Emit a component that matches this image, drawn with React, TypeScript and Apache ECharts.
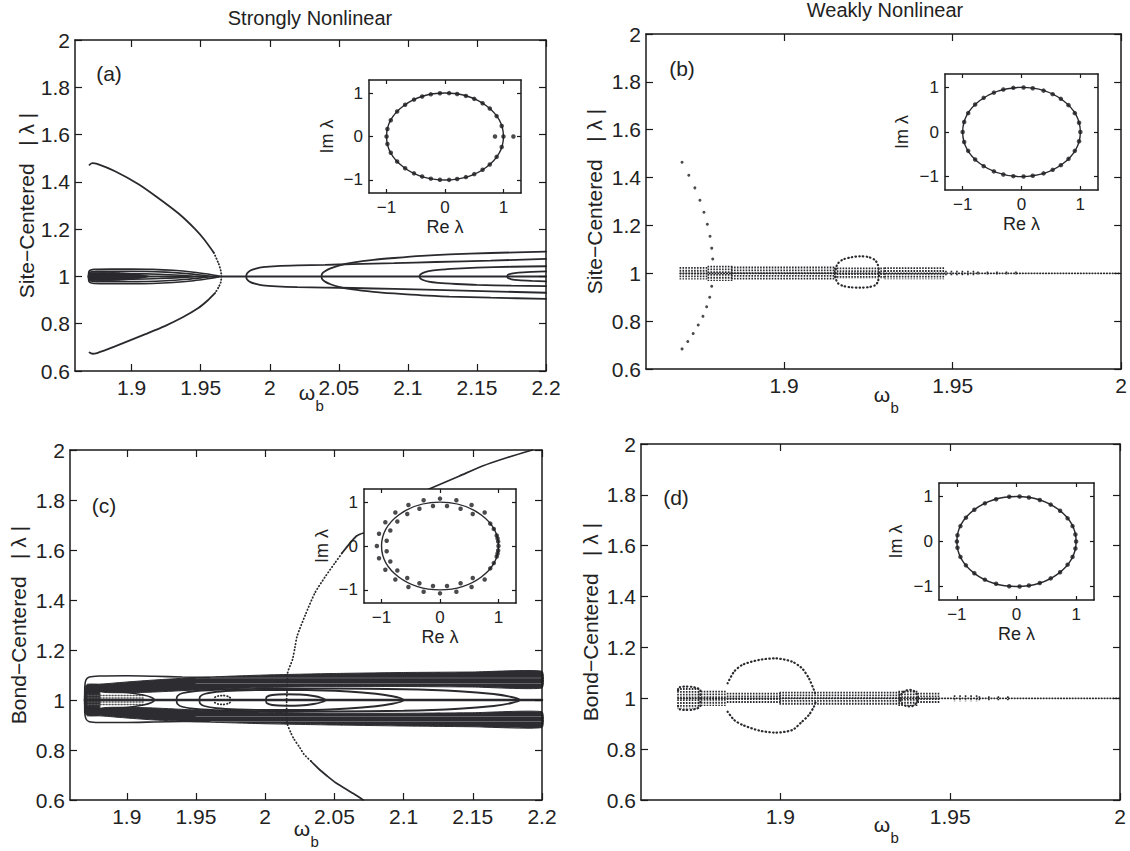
import React, { useEffect, useRef } from "react";
import * as echarts from "echarts";

const INK = "#2a2a2e";
const AXC = "#1a1a1a";
const FONT = "'Liberation Sans', Arial, Helvetica, sans-serif";

// ---------------- ticks ----------------
const strongXTicks = [1.9, 1.95, 2, 2.05, 2.1, 2.15, 2.2];
const weakXTicks = [1.9, 1.95, 2];
const mainYTicks = [0.6, 0.8, 1, 1.2, 1.4, 1.6, 1.8, 2];
const insetTicks = [-1, 0, 1];

// ---------------- panel (a) ----------------
const aUpX = [1.8695, 1.8715, 1.875, 1.888, 1.905, 1.918, 1.934, 1.946, 1.953, 1.9595];
const aUpY = [1.472, 1.479, 1.476, 1.445, 1.39, 1.337, 1.266, 1.2, 1.153, 1.1];
const aLoX = [1.8695, 1.8715, 1.875, 1.8875, 1.91, 1.924, 1.937, 1.948, 1.955, 1.9605];
const aLoY = [0.678, 0.673, 0.676, 0.703, 0.756, 0.79, 0.827, 0.865, 0.898, 0.93];
const aTipX = [1.9595, 1.963, 1.9645, 1.965, 1.9645, 1.963, 1.9605];
const aTipY = [1.1, 1.054, 1.025, 1.0, 0.975, 0.955, 0.93];

const aCoreX = [1.8688, 1.869, 1.875, 1.89, 1.9, 1.908, 1.913];
const aCoreU = [1.0, 1.016, 1.018, 1.016, 1.012, 1.006, 1.0];
const aCoreL = [1.0, 0.984, 0.982, 0.984, 0.988, 0.994, 1.0];

const a1X = [1.8688, 1.8692, 1.873, 1.885, 1.9, 1.915, 1.93, 1.945, 1.955, 1.961, 1.964];
const a1U = [1.0, 1.022, 1.03, 1.031, 1.031, 1.03, 1.026, 1.018, 1.01, 1.004, 1.0];
const a1L = [1.0, 0.978, 0.97, 0.969, 0.969, 0.97, 0.974, 0.982, 0.99, 0.996, 1.0];
const a2X = [1.8688, 1.8692, 1.875, 1.9, 1.925, 1.94, 1.95, 1.955, 1.957];
const a2U = [1.0, 1.016, 1.022, 1.022, 1.018, 1.012, 1.006, 1.002, 1.0];
const a2L = [1.0, 0.984, 0.978, 0.978, 0.982, 0.988, 0.994, 0.998, 1.0];
const a3X = [1.8688, 1.8692, 1.88, 1.9, 1.92, 1.935, 1.942, 1.945];
const a3U = [1.0, 1.01, 1.013, 1.012, 1.009, 1.005, 1.002, 1.0];
const a3L = [1.0, 0.99, 0.987, 0.988, 0.991, 0.995, 0.998, 1.0];

const aAX = [1.983, 1.9835, 1.986, 1.99, 1.995, 2.005, 2.02, 2.04, 2.06, 2.09, 2.12, 2.16, 2.2];
const aAU = [1.0, 1.012, 1.025, 1.033, 1.039, 1.044, 1.047, 1.049, 1.052, 1.056, 1.061, 1.067, 1.074];
const aAL = [1.0, 0.988, 0.976, 0.968, 0.962, 0.958, 0.955, 0.953, 0.951, 0.947, 0.943, 0.937, 0.931];
const aBX = [2.0375, 2.038, 2.04, 2.044, 2.05, 2.06, 2.075, 2.09, 2.11, 2.13, 2.16, 2.2];
const aBU = [1.0, 1.012, 1.022, 1.034, 1.046, 1.058, 1.07, 1.078, 1.087, 1.093, 1.099, 1.105];
const aBL = [1.0, 0.988, 0.978, 0.967, 0.956, 0.945, 0.935, 0.928, 0.92, 0.915, 0.91, 0.905];
const aCX = [2.1085, 2.109, 2.111, 2.115, 2.122, 2.135, 2.15, 2.175, 2.2];
const aCU = [1.0, 1.008, 1.015, 1.022, 1.028, 1.033, 1.037, 1.041, 1.043];
const aCL = [1.0, 0.992, 0.985, 0.978, 0.973, 0.968, 0.964, 0.961, 0.959];
const aDX = [2.172, 2.1725, 2.175, 2.18, 2.19, 2.2];
const aDU = [1.0, 1.007, 1.012, 1.016, 1.019, 1.021];
const aDL = [1.0, 0.993, 0.988, 0.984, 0.981, 0.979];
const aCenterX = [1.8688, 2.2];

// ---------------- panel (b) ----------------
const bUpX = [1.8697, 1.8717, 1.8735, 1.875, 1.8762, 1.8772, 1.878, 1.8785, 1.8788];
const bUpY = [1.464, 1.41, 1.357, 1.305, 1.255, 1.205, 1.155, 1.105, 1.06];
const bLoX = [1.8697, 1.8714, 1.873, 1.8745, 1.8759, 1.877, 1.8779, 1.8785];
const bLoY = [0.684, 0.715, 0.748, 0.784, 0.82, 0.86, 0.9, 0.946];
const bBubX = [1.9152, 1.9154, 1.916, 1.9175, 1.92, 1.9225, 1.925, 1.927, 1.9278, 1.9282];
const bBubU = [1.0, 1.025, 1.042, 1.058, 1.067, 1.071, 1.068, 1.055, 1.035, 1.0];
const bBubL = [1.0, 0.975, 0.958, 0.947, 0.941, 0.94, 0.942, 0.95, 0.965, 1.0];
// band segments: start, end, half height, density (0 dense, 1 sparse, 2 sparser)
const bBand = [
  [1.8692, 1.8775, 0.026, 0],
  [1.8775, 1.8845, 0.032, 0],
  [1.8845, 1.915, 0.028, 0],
  [1.915, 1.93, 0.024, 0],
  [1.93, 1.948, 0.025, 0],
  [1.948, 1.9575, 0.011, 1],
  [1.9575, 1.969, 0.007, 2],
];
const bCenterX = [1.8692, 2.0];

// ---------------- panel (c) ----------------
const cDotX = [2.033, 2.028, 2.025, 2.0209, 2.0185, 2.0161, 2.0155, 2.0155, 2.016, 2.0161, 2.0198, 2.0215, 2.0231, 2.029, 2.036, 2.043, 2.0505, 2.0557];
const cDotY = [0.756, 0.783, 0.81, 0.843, 0.87, 0.903, 0.95, 1.0, 1.05, 1.103, 1.163, 1.21, 1.256, 1.34, 1.429, 1.49, 1.549, 1.589];
const cHiX = [2.0557, 2.066, 2.0717];
const cHiY = [1.589, 1.656, 1.669];
const cTopX = [2.118, 2.14, 2.157, 2.175, 2.193];
const cTopY = [1.843, 1.895, 1.936, 1.97, 2.0];
const cLowX = [2.033, 2.039, 2.045, 2.051, 2.058, 2.064, 2.0708];
const cLowY = [0.756, 0.723, 0.695, 0.669, 0.645, 0.625, 0.6];

const cOutX = [1.8696, 1.8697, 1.8705, 1.873, 1.88, 1.9, 1.92, 1.94, 1.96];
const cOutU = [1.0, 1.05, 1.08, 1.092, 1.096, 1.097, 1.095, 1.092, 1.09];
const cOutL = [1.0, 0.95, 0.925, 0.913, 0.91, 0.91, 0.912, 0.914, 0.915];
const cBandX = [1.875, 1.885, 1.9, 1.92, 1.95, 2.0, 2.05, 2.1, 2.15, 2.2];
const cUpTop = [1.06, 1.065, 1.072, 1.08, 1.09, 1.1, 1.106, 1.11, 1.112, 1.115];
const cUpBot = [1.04, 1.03, 1.029, 1.032, 1.04, 1.05, 1.054, 1.054, 1.052, 1.048];
const cLoTop = [0.96, 0.97, 0.971, 0.968, 0.96, 0.951, 0.947, 0.947, 0.949, 0.953];
const cLoBot = [0.94, 0.935, 0.928, 0.92, 0.913, 0.905, 0.9, 0.896, 0.893, 0.89];
const cStreakX = [1.95, 2.2];
const cStreakY = [1.066, 1.088, 0.934, 0.914];
const cBlockX = [1.8697, 1.8697, 1.8715, 1.88, 1.88, 1.8715];
const cBlockY = [0.95, 1.05, 1.063, 1.06, 0.94, 0.937];
const cRowY = [1.018, 1.008, 0.992, 0.982];
const cRowX = [1.872, 1.912];

const c1X = [1.936, 1.9365, 1.94, 1.95, 1.97, 2.0, 2.05, 2.1, 2.14, 2.165, 2.178, 2.184];
const c1U = [1.0, 1.015, 1.027, 1.036, 1.042, 1.045, 1.046, 1.043, 1.035, 1.024, 1.012, 1.0];
const c1L = [1.0, 0.985, 0.973, 0.964, 0.958, 0.955, 0.954, 0.957, 0.965, 0.976, 0.988, 1.0];
const c2X = [1.9525, 1.953, 1.956, 1.965, 1.98, 2.0, 2.03, 2.06, 2.08, 2.092, 2.098, 2.1];
const c2U = [1.0, 1.014, 1.024, 1.033, 1.038, 1.04, 1.04, 1.034, 1.025, 1.015, 1.007, 1.0];
const c2L = [1.0, 0.986, 0.976, 0.967, 0.962, 0.96, 0.96, 0.966, 0.975, 0.985, 0.993, 1.0];
const c3X = [2.0006, 2.001, 2.005, 2.015, 2.025, 2.035, 2.041, 2.0437];
const c3U = [1.0, 1.012, 1.02, 1.023, 1.022, 1.016, 1.008, 1.0];
const c3L = [1.0, 0.988, 0.98, 0.977, 0.978, 0.984, 0.992, 1.0];
const c4X = [1.963, 1.9635, 1.966, 1.97, 1.974, 1.976];
const c4U = [1.0, 1.01, 1.016, 1.018, 1.012, 1.0];
const c4L = [1.0, 0.99, 0.984, 0.982, 0.988, 1.0];
const c5X = [1.8696, 1.87, 1.88, 1.9, 1.912, 1.918, 1.92];
const c5U = [1.0, 1.03, 1.035, 1.03, 1.02, 1.01, 1.0];
const c5L = [1.0, 0.97, 0.965, 0.97, 0.98, 0.99, 1.0];
const cCenterX = [1.8697, 2.2];

// ---------------- panel (d) ----------------
const dBand = [
  [1.8699, 1.876, 0.04, 0],
  [1.876, 1.8845, 0.03, 0],
  [1.8845, 1.9, 0.022, 0],
  [1.9, 1.935, 0.026, 0],
  [1.935, 1.9406, 0.03, 0],
  [1.9406, 1.9474, 0.022, 0],
  [1.9513, 1.9586, 0.012, 1],
  [1.9586, 1.967, 0.008, 2],
];
const dLbX = [1.8699, 1.8705, 1.872, 1.874, 1.8755, 1.8765];
const dLbU = [1.03, 1.044, 1.046, 1.045, 1.04, 1.032];
const dLbL = [0.97, 0.956, 0.954, 0.955, 0.96, 0.968];
const dBigX = [1.8845, 1.8864, 1.8889, 1.8938, 1.8986, 1.9035, 1.9064, 1.9084, 1.9099, 1.9105];
const dBigU = [1.059, 1.105, 1.132, 1.151, 1.157, 1.144, 1.118, 1.079, 1.033, 1.01];
const dBigL = [0.947, 0.915, 0.895, 0.873, 0.865, 0.875, 0.908, 0.934, 0.967, 0.99];
const dSmX = [1.9352, 1.9358, 1.937, 1.938, 1.939, 1.94, 1.9406];
const dSmU = [1.0, 1.02, 1.03, 1.033, 1.031, 1.02, 1.0];
const dSmL = [1.0, 0.978, 0.97, 0.968, 0.97, 0.98, 1.0];
const dCenterX = [1.8699, 2.0];

// ---------------- insets: eigenvalues (upper half, conjugates below) ----------------
const insetAUpper = [[0.97, 0.242], [0.883, 0.469], [0.766, 0.643], [0.643, 0.766], [0.5, 0.866], [0.358, 0.934], [0.208, 0.978], [0.07, 0.998], [-0.087, 0.996], [-0.242, 0.97], [-0.391, 0.921], [-0.53, 0.848], [-0.682, 0.731], [-0.819, 0.574], [-0.927, 0.375], [-0.985, 0.174]];
const insetAReal = [[-1, 0], [0.855, 0], [1.0, 0], [1.17, 0]];
const insetBUpper = [[0.978, 0.208], [0.906, 0.423], [0.799, 0.602], [0.669, 0.743], [0.53, 0.848], [0.375, 0.927], [0.191, 0.982], [0.035, 0.999], [-0.139, 0.99], [-0.309, 0.951], [-0.469, 0.883], [-0.643, 0.766], [-0.788, 0.616], [-0.906, 0.423], [-0.974, 0.225]];
const insetBReal = [[1, 0], [-1, 0]];
const insetCUpper = [[0.995, 0.1], [0.985, 0.17], [0.97, 0.24], [0.92, 0.39], [0.86, 0.51], [0.764, 0.764], [0.54, 0.935], [0.28, 1.043], [0, 1.08], [-0.28, 1.043], [-0.54, 0.935], [-0.764, 0.764], [-0.935, 0.54], [-1.043, 0.28], [0.56, 0.73], [0.352, 0.85], [0.12, 0.912], [-0.12, 0.912], [-0.352, 0.85], [-0.56, 0.73], [-0.73, 0.56], [-0.85, 0.352], [-0.912, 0.12]];
const insetCReal = [[-1.08, 0], [1.0, 0]];
const insetDUpper = [[0.988, 0.156], [0.94, 0.342], [0.857, 0.515], [0.731, 0.682], [0.574, 0.819], [0.391, 0.921], [0.208, 0.978], [0.052, 0.999], [-0.122, 0.993], [-0.342, 0.94], [-0.53, 0.848], [-0.707, 0.707], [-0.848, 0.53], [-0.94, 0.342], [-0.99, 0.139]];
const insetDReal = [[1, 0], [-1, 0]];
const unitCircle = [[0, 0, 1]];

// ---------------- layout ----------------
const GRIDS = [
  { left: 75, top: 40, width: 471, height: 331 },
  { left: 646, top: 34, width: 479, height: 335 },
  { left: 70, top: 450, width: 472, height: 350 },
  { left: 641, top: 444, width: 479, height: 356 },
  { left: 369, top: 80, width: 152, height: 113 },
  { left: 945, top: 74, width: 153, height: 116 },
  { left: 364, top: 489, width: 152, height: 114 },
  { left: 939, top: 483, width: 155, height: 117 },
];
const BAND_STEP = [2.9, 5.5, 9.5];

type Pt = number[];
const pts = (xs: number[], ys: number[]): Pt[] => xs.map((x, i) => [x, ys[i]]);
const closedLoop = (xs: number[], up: number[], lo: number[]) => [...pts(xs, up), ...pts(xs, lo).reverse()];
const openLoop = (xs: number[], up: number[], lo: number[]) => [...pts(xs, lo).reverse(), ...pts(xs, up)];
const withConj = (upper: number[][], real: number[][]) => [...upper, ...upper.map(([r, i]) => [r, -i]), ...real];

const fmtMain = (v: number) => String(+v.toFixed(3));
const fmtInset = (v: number) => (v < 0 ? "\u2212" + Math.abs(v) : String(v));

function lineS(g: number, data: Pt[], o: any = {}) {
  return {
    type: "line", xAxisIndex: g * 2, yAxisIndex: g * 2, data, symbol: "none", showSymbol: false,
    silent: true, animation: false, z: o.z ?? 3, smooth: o.smooth ?? 0.25,
    lineStyle: { color: o.color ?? INK, width: o.width ?? 1.6, type: o.dash ?? "solid", cap: "round", opacity: o.opacity ?? 1 },
  };
}
function polyS(g: number, polys: Pt[][], color: string, z = 2) {
  return {
    type: "custom", xAxisIndex: g * 2, yAxisIndex: g * 2, silent: true, z,
    data: polys.map((p) => p[0]),
    renderItem: (params: any, api: any) => {
      const poly = polys[params.dataIndex];
      return { type: "polygon", shape: { points: poly.map((p) => api.coord(p)), smooth: 0.15 }, style: { fill: color, stroke: color, lineWidth: 1 } };
    },
  };
}
function bandS(g: number, segs: number[][]) {
  return {
    type: "custom", xAxisIndex: g * 2, yAxisIndex: g * 2, silent: true, z: 3,
    data: segs.map((s) => [s[0], 1, s[1], s[2], s[3]]),
    encode: { x: 0, y: 1 },
    renderItem: (params: any, api: any) => {
      const x0 = api.value(0), x1 = api.value(2), h = api.value(3), kind = api.value(4);
      const a = api.coord([x0, 1 + h]);
      const b = api.coord([x1, 1 - h]);
      const step = BAND_STEP[kind];
      const children: any[] = [];
      for (let px = a[0]; px <= b[0] + 0.01; px += step) {
        children.push({ type: "line", shape: { x1: px, y1: a[1], x2: px, y2: b[1] }, style: { stroke: INK, lineWidth: 1.6, lineDash: [1.8, 1.0] } });
      }
      return { type: "group", children };
    },
  };
}
function dotsS(g: number, data: Pt[], size: number, z = 4) {
  return { type: "scatter", xAxisIndex: g * 2, yAxisIndex: g * 2, data, symbol: "circle", symbolSize: size, itemStyle: { color: "#1e1e22" }, silent: true, z };
}
function circleS(g: number) {
  return {
    type: "custom", xAxisIndex: g * 2, yAxisIndex: g * 2, silent: true, z: 22,
    data: unitCircle,
    renderItem: (params: any, api: any) => {
      const c = api.coord([api.value(0), api.value(1)]);
      const s = api.size([api.value(2), api.value(2)]);
      return { type: "ellipse", shape: { cx: c[0], cy: c[1], rx: s[0], ry: s[1] }, style: { fill: "none", stroke: INK, lineWidth: 1.4 } };
    },
  };
}

function xAxes(g: number, min: number, max: number, ticks: number[], inset: boolean) {
  const z = inset ? 21 : 5;
  const base = {
    type: "value", gridIndex: g, min, max, z,
    axisLine: { show: true, onZero: false, lineStyle: { color: AXC, width: 1.5 } },
    axisTick: { show: true, inside: true, length: inset ? 4 : 7, customValues: ticks, lineStyle: { color: AXC, width: 1.2 } },
    splitLine: { show: false },
  };
  return [
    {
      ...base, position: "bottom",
      axisLabel: { show: true, customValues: ticks, formatter: inset ? fmtInset : fmtMain, color: "#222", fontSize: inset ? 17 : 21, fontFamily: FONT, margin: 6 },
      ...(inset ? { name: "Re \u03bb", nameLocation: "middle", nameGap: 25, nameTextStyle: { fontSize: 18, fontFamily: FONT, color: "#222" } } : {}),
    },
    { ...base, position: "top", axisLabel: { show: false } },
  ];
}
function yAxes(g: number, min: number, max: number, ticks: number[], inset: boolean, name: string, gap: number) {
  const z = inset ? 21 : 5;
  const base = {
    type: "value", gridIndex: g, min, max, z,
    axisLine: { show: true, onZero: false, lineStyle: { color: AXC, width: 1.5 } },
    axisTick: { show: true, inside: true, length: inset ? 4 : 7, customValues: ticks, lineStyle: { color: AXC, width: 1.2 } },
    splitLine: { show: false },
  };
  return [
    {
      ...base, position: "left",
      axisLabel: { show: true, customValues: ticks, formatter: inset ? fmtInset : fmtMain, color: "#222", fontSize: inset ? 17 : 21, fontFamily: FONT, margin: inset ? 6 : 5 },
      name, nameLocation: "middle", nameGap: gap, nameRotate: 90,
      nameTextStyle: { fontSize: inset ? 18 : 21, fontFamily: FONT, color: "#222" },
    },
    { ...base, position: "right", axisLabel: { show: false } },
  ];
}

function txt(text: string, x: number, y: number, size: number, align = "center") {
  return { type: "text", x, y, z: 30, silent: true, style: { text, fontSize: size, fontFamily: FONT, fill: "#222", align, verticalAlign: "middle" } };
}
// omega with subscript b, placed side by side so the two texts do not overlap
function omegaB(cx: number, cy: number) {
  return [txt("\u03c9", cx, cy, 21, "center"), txt("b", cx + 8.5, cy + 13, 15, "left")];
}

function buildOption() {
  const XMIN = 1.859;
  const xAxis = [
    ...xAxes(0, XMIN, 2.2, strongXTicks, false),
    ...xAxes(1, XMIN, 2.0, weakXTicks, false),
    ...xAxes(2, XMIN, 2.2, strongXTicks, false),
    ...xAxes(3, XMIN, 2.0, weakXTicks, false),
    ...xAxes(4, -1.3, 1.3, insetTicks, true),
    ...xAxes(5, -1.3, 1.3, insetTicks, true),
    ...xAxes(6, -1.3, 1.3, insetTicks, true),
    ...xAxes(7, -1.3, 1.3, insetTicks, true),
  ];
  const siteName = "Site\u2212Centered   | \u03bb |";
  const bondName = "Bond\u2212Centered   | \u03bb |";
  const yAxis = [
    ...yAxes(0, 0.6, 2, mainYTicks, false, siteName, 38),
    ...yAxes(1, 0.6, 2, mainYTicks, false, siteName, 41),
    ...yAxes(2, 0.6, 2, mainYTicks, false, bondName, 41),
    ...yAxes(3, 0.6, 2, mainYTicks, false, bondName, 40),
    ...yAxes(4, -1.3, 1.3, insetTicks, true, "Im \u03bb", 33),
    ...yAxes(5, -1.3, 1.3, insetTicks, true, "Im \u03bb", 34),
    ...yAxes(6, -1.3, 1.3, insetTicks, true, "Im \u03bb", 33),
    ...yAxes(7, -1.3, 1.3, insetTicks, true, "Im \u03bb", 34),
  ];
  const grid = GRIDS.map((g, i) => ({
    ...g, containLabel: false,
    show: i >= 4, backgroundColor: "#ffffff", borderWidth: 0, z: i >= 4 ? 20 : 0,
  }));

  const dotted = { dash: [0.5, 3.2], width: 2.2 };
  const series: any[] = [
    // ---- (a)
    polyS(0, [closedLoop(aCoreX, aCoreU, aCoreL)], INK),
    lineS(0, closedLoop(a1X, a1U, a1L)),
    lineS(0, closedLoop(a2X, a2U, a2L)),
    lineS(0, closedLoop(a3X, a3U, a3L)),
    lineS(0, pts(aUpX, aUpY), { width: 1.8 }),
    lineS(0, pts(aLoX, aLoY), { width: 1.8 }),
    lineS(0, pts(aTipX, aTipY), { dash: [0.5, 2.6], width: 1.8 }),
    lineS(0, openLoop(aAX, aAU, aAL), { width: 1.8 }),
    lineS(0, openLoop(aBX, aBU, aBL), { width: 1.8 }),
    lineS(0, openLoop(aCX, aCU, aCL), { width: 1.8 }),
    lineS(0, openLoop(aDX, aDU, aDL), { width: 1.8 }),
    lineS(0, pts(aCenterX, [1, 1]), { width: 2, smooth: false }),
    // ---- (b)
    bandS(1, bBand),
    lineS(1, pts(bCenterX, [1, 1]), { dash: [0.5, 2.4], width: 1.8, smooth: false }),
    dotsS(1, pts(bUpX, bUpY), 3),
    dotsS(1, pts(bLoX, bLoY), 3),
    lineS(1, closedLoop(bBubX, bBubU, bBubL), dotted),
    // ---- (c)
    polyS(2, [
      [...pts(cBandX, cUpTop), ...pts(cBandX, cUpBot).reverse()],
      [...pts(cBandX, cLoTop), ...pts(cBandX, cLoBot).reverse()],
      pts(cBlockX, cBlockY),
    ], "#2c2c31"),
    ...cStreakY.map((y) => lineS(2, pts(cStreakX, [y, y]), { color: "#ffffff", width: 0.8, opacity: 0.35, smooth: false })),
    ...cRowY.map((y) => lineS(2, pts(cRowX, [y, y]), { dash: [1.2, 1.8], width: 1.3, color: "#555", smooth: false })),
    lineS(2, openLoop(cOutX, cOutU, cOutL)),
    lineS(2, closedLoop(c1X, c1U, c1L), { width: 1.8 }),
    lineS(2, closedLoop(c2X, c2U, c2L), { width: 1.8 }),
    lineS(2, closedLoop(c3X, c3U, c3L), { width: 1.8 }),
    lineS(2, closedLoop(c4X, c4U, c4L), { dash: [0.5, 2.6], width: 1.8 }),
    lineS(2, closedLoop(c5X, c5U, c5L), { width: 1.6 }),
    lineS(2, pts(cCenterX, [1, 1]), { width: 2.4, smooth: false }),
    lineS(2, pts(cDotX, cDotY), { dash: [0.5, 2.8], width: 1.8 }),
    lineS(2, pts(cHiX, cHiY), { width: 1.7 }),
    lineS(2, pts(cTopX, cTopY), { width: 1.7 }),
    lineS(2, pts(cLowX, cLowY), { width: 1.7 }),
    // ---- (d)
    bandS(3, dBand),
    lineS(3, pts(dCenterX, [1, 1]), { dash: [0.5, 2.4], width: 1.8, smooth: false }),
    lineS(3, closedLoop(dLbX, dLbU, dLbL), dotted),
    lineS(3, pts(dBigX, dBigU), dotted),
    lineS(3, pts(dBigX, dBigL), dotted),
    lineS(3, closedLoop(dSmX, dSmU, dSmL), dotted),
    // ---- insets
    circleS(4), dotsS(4, withConj(insetAUpper, insetAReal), 4.5, 23),
    circleS(5), dotsS(5, withConj(insetBUpper, insetBReal), 4.5, 23),
    circleS(6), dotsS(6, withConj(insetCUpper, insetCReal), 4.5, 23),
    circleS(7), dotsS(7, withConj(insetDUpper, insetDReal), 4.5, 23),
  ];

  const graphic = [
    txt("Strongly Nonlinear", 310, 18, 20),
    txt("Weakly Nonlinear", 885, 10, 20),
    txt("(a)", 109, 73, 21),
    txt("(b)", 682, 68, 21),
    txt("(c)", 104, 505, 21),
    txt("(d)", 676, 497, 21),
    ...omegaB(307, 392),
    ...omegaB(882, 394),
    ...omegaB(302, 828),
    ...omegaB(882, 824),
  ];

  return { animation: false, backgroundColor: "#ffffff", grid, xAxis, yAxis, series, graphic };
}

export default function App() {
  const ref = useRef<HTMLDivElement>(null);
  useEffect(() => {
    if (!ref.current) return;
    const chart = echarts.init(ref.current, null, { renderer: "svg" });
    chart.setOption(buildOption() as any);
    return () => chart.dispose();
  }, []);
  return <div ref={ref} style={{ position: "absolute", left: 0, top: 0, width: 1130, height: 851, background: "#fff" }} />;
}
